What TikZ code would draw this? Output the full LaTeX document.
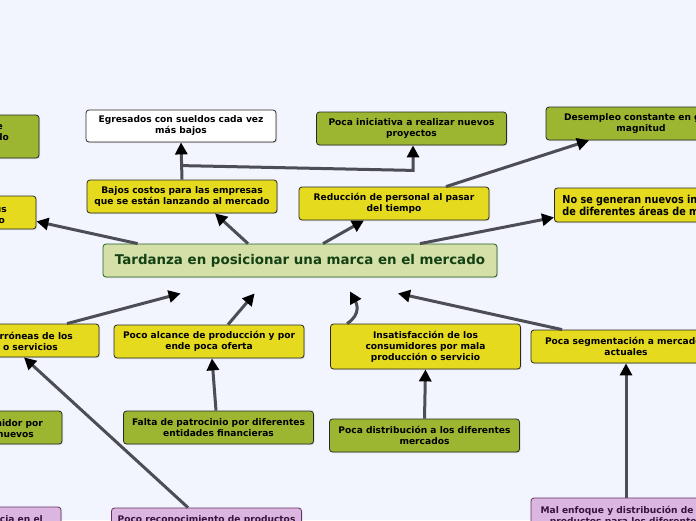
\documentclass[tikz,border=0pt]{standalone}
\usepackage{fontspec}
\setmainfont{DejaVu Sans}
\newfontfamily\narrowfont[FakeStretch=0.88]{DejaVu Sans}
\usetikzlibrary{arrows.meta, calc, shadows}

\definecolor{bgpage}{RGB}{242,245,254}
\definecolor{boxyel}{RGB}{229,218,30}
\definecolor{boxgrn}{RGB}{157,182,49}
\definecolor{boxpur}{RGB}{218,182,224}
\definecolor{purline}{RGB}{100,50,100}
\definecolor{purtext}{RGB}{55,20,60}
\definecolor{boxline}{RGB}{40,40,40}
\definecolor{mainfill}{RGB}{212,224,168}
\definecolor{mainline}{RGB}{35,95,35}
\definecolor{maintext}{RGB}{20,65,20}
\definecolor{linkgray}{RGB}{77,77,85}

\begin{document}
\begin{tikzpicture}[
    x=1pt, y=-1pt,
    font=\bfseries\fontsize{9.1}{11}\selectfont,
    box/.style={draw=boxline, line width=0.8pt, rounded corners=3pt, align=center,
                inner sep=2pt, minimum width=190pt, minimum height=33pt,
                drop shadow={shadow xshift=1pt, shadow yshift=-1pt, opacity=0.25}},
    box yel/.style={box, fill=boxyel},
    box grn/.style={box, fill=boxgrn},
    box wht/.style={box, fill=white},
    box pur/.style={box, fill=boxpur, draw=purline, text=purtext},
    box main/.style={box, fill=mainfill, draw=mainline, text=maintext,
                     minimum width=394pt, font=\bfseries\fontsize{13.4}{15}\selectfont},
    frag/.style={inner sep=0pt, anchor=base east},
    link/.style={draw=linkgray, line width=3pt,
                 -{Triangle[width=12pt, length=12pt, color=black]}},
]

% page
\useasboundingbox (0,0) rectangle (696,520);
\fill[bgpage] (0,0) rectangle (696,520);
\clip (0,0) rectangle (696,520);

% Central topic
\node[box main] (cen) at (300,260.5) {Tardanza en posicionar una marca en el mercado};

% Upper branches
\node[box yel] (baj) at (182,196.5) {Bajos costos para las empresas\\que se están lanzando al mercado};
\node[box wht, minimum height=32pt] (egr) at (181,126) {Egresados con sueldos cada vez\\más bajos};
\node[box grn] (ini) at (411.5,128.5) {Poca iniciativa a realizar nuevos\\proyectos};
\node[box yel] (red) at (394,203.5) {Reducción de personal al pasar\\del tiempo};
\node[box grn] (des) at (641,123.5) {Desempleo constante en gran\\magnitud};
\node[box yel, anchor=west, minimum width=0pt, minimum height=34pt, inner xsep=8pt, align=left,
      font=\narrowfont\bfseries\fontsize{11}{12}\selectfont] (nos) at (554,205)
    {No se generan nuevos ingresos\\de diferentes áreas de mercado};

% Left edge (cut off)
\node[box grn, minimum height=43pt] (tlg) at (-56,136.5) {};
\node[frag] (tlg1) at (3,129) {e};
\node[frag] (tlg2) at (9,140) {do};
\node[box yel] (tly) at (-59,212.5) {};
\node[frag] (tly1) at (7,212) {us};
\node[frag] (tly2) at (5,223) {o};

% Lower branches
\node[box yel] (err) at (4,340.5) {};
\node[frag] (err1) at (73,339) {erróneas de los};
\node[frag] (err2) at (58,350) {s o servicios};
\node[box yel] (alc) at (209,341.5) {Poco alcance de producción y por\\ende poca oferta};
\node[box yel, minimum height=45pt] (ins) at (425.5,346.5) {Insatisfacción de los\\consumidores por mala\\producción o servicio};
\node[box yel] (seg) at (626,346.5) {Poca segmentación a mercados\\actuales};

\node[box grn] (nid) at (-33,427.5) {};
\node[frag] (nid1) at (43,426) {midor por};
\node[frag] (nid2) at (34,437) {nuevos};
\node[box grn] (fal) at (218.5,427.5) {Falta de patrocinio por diferentes\\entidades financieras};
\node[box grn] (dis) at (424.5,435.5) {Poca distribución a los diferentes\\mercados};

\node[box pur] (lpu) at (-34,523.5) {};
\node[frag, text=purtext] (lpu1) at (43,522) {cia en el};
\node[box pur] (rec) at (206.5,524.5) {};
\node[frag, anchor=base, text=purtext] (rec1) at (206.5,522) {Poco reconocimiento de productos};
\node[box pur, minimum height=44pt] (mal) at (626,520) {};
\node[frag, anchor=base, text=purtext] (mal1) at (626,513) {Mal enfoque y distribución de los};
\node[frag, anchor=base, text=purtext] (mal2) at (626,524) {productos para los diferentes};

% Connectors from the central topic
\draw[link] ([xshift=-52pt]cen.north) -- ([xshift=33pt]baj.south);
\draw[link] ([xshift=35pt]cen.north west) -- ([yshift=8pt]tly.south east);
\draw[link] ([xshift=23pt]cen.north) -- ([xshift=-30pt]red.south);
\draw[link] ([xshift=120pt]cen.north) -- ([yshift=5pt]nos.south west);

% Second level, top
\draw[link] (baj.north) -- (egr.south);
\draw[link] ([yshift=14pt]baj.north) -- ([xshift=1.5pt, yshift=-25pt]ini.south) -- ([xshift=1.5pt]ini.south);
\draw[link] ([xshift=52pt]red.north) -- ([xshift=-52pt]des.south);

% Causes towards the central topic
\draw[link] ([xshift=63pt]err.north) -- ([xshift=78pt, yshift=-16pt]cen.south west);
\draw[link] ([xshift=19pt]alc.north) -- ([xshift=152pt, yshift=-16pt]cen.south west);
\draw[link] ([xshift=17pt]ins.north west) .. controls +(15,-10) and +(6,11) .. ([xshift=50pt, yshift=-14pt]cen.south);
\draw[link] ([xshift=-64pt]seg.north) -- ([xshift=98pt, yshift=-16pt]cen.south);

% Second level, bottom
\draw[link] ([xshift=-2.5pt]fal.north) -- ([xshift=3pt]alc.south);
\draw[link] (dis.north) -- (ins.south);
\draw[link] (mal.north) -- (seg.south);
\draw[link] ([xshift=-18.5pt]rec.north) -- ([xshift=20pt]err.south);
\draw[link] (nid.north) -- ([xshift=-6pt, yshift=-2pt]err.south);

\end{tikzpicture}
\end{document}
